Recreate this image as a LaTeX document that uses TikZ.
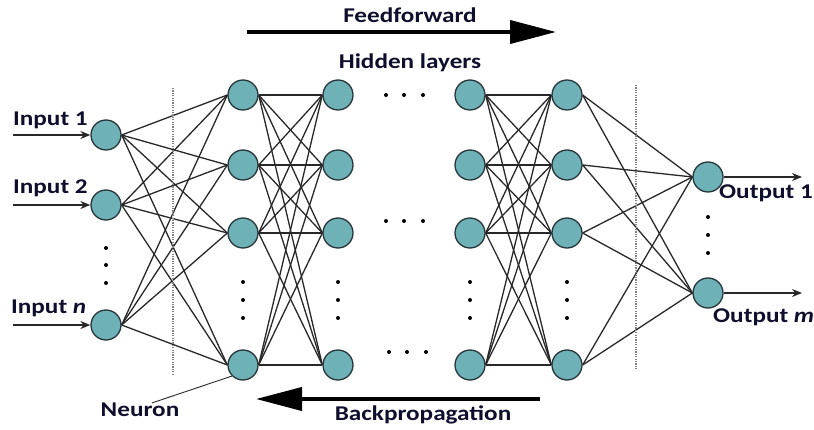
\documentclass[tikz,border=0pt]{standalone}
\usepackage{fontspec}
\setmainfont{Carlito}[FakeStretch=1.2]
\usetikzlibrary{positioning,arrows.meta}
\definecolor{neuronfill}{RGB}{110,177,182}
\definecolor{neuronedge}{RGB}{40,55,60}
\definecolor{synapsecol}{RGB}{40,40,40}
\definecolor{labelcol}{RGB}{15,15,45}

\begin{document}
\begin{tikzpicture}[x=1pt,y=-1pt,
    neuron/.style={circle,draw=neuronedge,fill=neuronfill,line width=1.3pt,minimum size=30pt,inner sep=0pt},
    synapse/.style={draw=synapsecol,line width=1.3pt},
    lbl/.style={font=\bfseries\fontsize{21}{23}\selectfont,text=labelcol,inner sep=0pt},
    signal/.style={-{Stealth[length=10pt,width=8pt]},line width=1.3pt,draw=synapsecol},
    flow/.style={-{Triangle[length=46pt,width=23pt]},line width=3.8pt},
    sep/.style={dash pattern=on 1.2pt off 1.2pt,line width=1.5pt,draw=gray}]
  \useasboundingbox (0,0) rectangle (814,430);

  % input layer
  \node[neuron] (i1) at (106,135) {};
  \node[neuron] (i2) at (106,205) {};
  \node[neuron] (i3) at (106,325) {};
  % hidden layers
  \foreach \l/\x in {a/243,b/338,c/470,d/567}
    \foreach \r/\y in {1/95,2/165,3/233,4/365}
      \node[neuron] (\l\r) at (\x,\y) {};
  % output layer
  \node[neuron] (o1) at (708,177) {};
  \node[neuron] (o2) at (708,293) {};

  % synapses
  \foreach \s in {i1,i2,i3}
    \foreach \t in {1,...,4}
      \draw[synapse] (\s.east) -- (a\t.west);
  \foreach \s in {1,...,4}
    \foreach \t in {1,...,4} {
      \draw[synapse] (a\s.east) -- (b\t.west);
      \draw[synapse] (c\s.east) -- (d\t.west);
    }
  \foreach \s in {1,...,4}
    \foreach \t in {o1,o2}
      \draw[synapse] (d\s.east) -- (\t.west);

  % separators
  \coordinate (sl0) at (173,88);  \coordinate (sl1) at (173,375);
  \coordinate (sr0) at (636,85);  \coordinate (sr1) at (636,370);
  \draw[sep] (sl0) -- (sl1);
  \draw[sep] (sr0) -- (sr1);

  % dots
  \foreach \x/\y in {106/248,106/265,106/283,
                     708/217,708/235,708/253,
                     386/95,404/95,423/95,
                     386/221,404/221,423/221,
                     389/352,407/352,426/352}
    \fill (\x,\y) circle (2pt);
  \foreach \x in {243,338,470,567}
    \foreach \y in {282,300,318}
      \fill (\x,\y) circle (2pt);

  % inputs and outputs
  \coordinate (x1) at (13,135);
  \coordinate (x2) at (13,205);
  \coordinate (x3) at (13,325);
  \draw[signal] (x1) -- (i1);
  \draw[signal] (x2) -- (i2);
  \draw[signal] (x3) -- (i3);
  \node[lbl,anchor=west] (lin1) at (13,120) {Input 1};
  \node[lbl,anchor=west] (lin2) at (13,188) {Input 2};
  \node[lbl,anchor=west] (lin3) at (11,308) {Input \textit{n}};
  \coordinate (y1) at (802,177);
  \coordinate (y2) at (802,293);
  \draw[signal] (o1) -- (y1);
  \draw[signal] (o2) -- (y2);
  \node[lbl,anchor=west] (lout1) at (719,193) {Output 1};
  \node[lbl,anchor=west] (lout2) at (713,317) {Output \textit{m}};

  % neuron label
  \node[lbl] (neuronlbl) at (140,410) {Neuron};
  \draw[synapse,line width=0.9pt] ([xshift=12pt]neuronlbl.north) -- (a4.225);

  % flow arrows
  \coordinate (ff0) at (247,32);  \coordinate (ff1) at (556,32);
  \coordinate (bp0) at (540,399); \coordinate (bp1) at (256,399);
  \draw[flow] (ff0) -- (ff1);
  \draw[flow] (bp0) -- (bp1);
  \node[lbl] (fflbl) at (410,15) {Feedforward};
  \node[lbl] (hidlbl) at (410,63) {Hidden layers};
  \node[lbl] (bplbl) at (423,415) {Backpropagation};
\end{tikzpicture}
\end{document}
